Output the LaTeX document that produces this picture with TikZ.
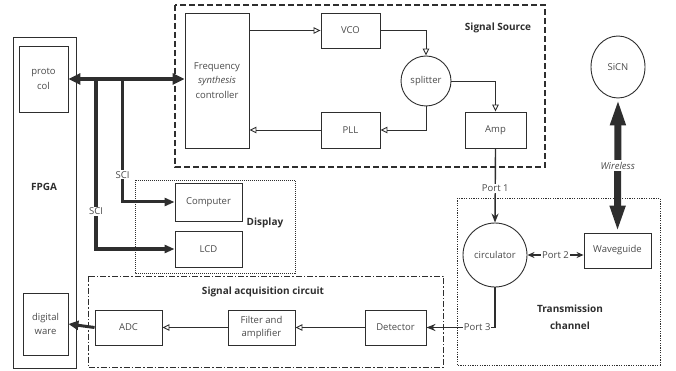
\documentclass[tikz,border=0pt]{standalone}
\usepackage{fontspec}
\setmainfont{Open Sans}
\usetikzlibrary{arrows.meta,shapes.geometric}
\definecolor{ink}{HTML}{2E2E2E}
\definecolor{txt}{HTML}{4A4A4A}
\begin{document}
\begin{tikzpicture}[x=1pt,y=-1pt,
  every node/.style={text=txt, font=\fontsize{9.5}{14.5}\selectfont},
  box/.style={draw=ink, line width=0.9pt, inner sep=0pt, align=center},
  rnd/.style={draw=ink, line width=0.9pt, circle, inner sep=0pt, align=center},
  grp/.style={draw=ink},
  ttl/.style={font=\fontsize{10}{17}\selectfont\bfseries, text=ink, align=center},
  oarr/.style={draw=ink, line width=0.9pt, -{Triangle[open,length=7pt,width=6.5pt]}},
  farr/.style={draw=ink, -{Triangle[length=10pt,width=8pt]}},
  lbl/.style={fill=white, inner sep=1pt}
]
\useasboundingbox (0,0) rectangle (676,371);

% group frames
\draw[grp, line width=1.5pt, dash pattern=on 6pt off 3pt] (175,5) rectangle (545,167);
\draw[grp, line width=0.6pt, dash pattern=on 1pt off 1pt] (135,180) rectangle (295,273);
\draw[grp, line width=0.9pt, dash pattern=on 6pt off 2pt on 1.5pt off 2pt] (88,276) rectangle (443,367);
\draw[grp, line width=0.7pt, dash pattern=on 1.2pt off 1.2pt] (457,198) rectangle (660,365);

\node[ttl] (tsrc) at (498,28) {Signal Source};
\node[ttl] (tdisp) at (265,223) {Display};
\node[ttl] (tacq) at (263,292) {Signal acquisition circuit};
\node[ttl] (ttr) at (570,317) {Transmission\\channel};

% FPGA
\node[box, minimum width=63pt, minimum height=331pt] (fpga) at (44.5,202.5) {};
\node[ttl] (tfpga) at (44,187) {FPGA};
\node[box, minimum width=49pt, minimum height=66pt] (proto) at (43.5,79) {proto\\col};
\node[box, minimum width=45pt, minimum height=62pt] (dig) at (45.5,324) {digital\\ware};

% signal source
\node[box, minimum width=64pt, minimum height=135pt] (freq) at (217,80.5) {Frequency\\\textit{synthesis}\\controller};
\node[box, minimum width=59pt, minimum height=35pt] (vco) at (350.5,30.5) {VCO};
\node[box, minimum width=59pt, minimum height=36pt] (pll) at (350.5,130) {PLL};
\node[rnd, minimum size=50pt] (split) at (426,81) {splitter};
\node[box, minimum width=61pt, minimum height=36pt] (amp) at (495.5,130) {Amp};

% display
\node[box, minimum width=67pt, minimum height=38pt] (comp) at (208.5,202) {Computer};
\node[box, minimum width=67pt, minimum height=36pt] (lcd) at (208.5,249) {LCD};

% transmission
\node[rnd, minimum size=64pt] (circ) at (495,255) {circulator};
\node[box, minimum width=67pt, minimum height=35pt] (wg) at (617.5,250.5) {Waveguide};
\node[draw=ink, line width=0.9pt, ellipse, minimum width=54pt, minimum height=62pt, inner sep=0pt] (sicn) at (618,67) {SiCN};

% acquisition
\node[box, minimum width=61pt, minimum height=35pt] (det) at (395.5,327.5) {Detector};
\node[box, minimum width=67pt, minimum height=35pt, font=\fontsize{9.5}{13}\selectfont] (filt) at (261.5,327.5) {Filter and\\amplifier};
\node[box, minimum width=67pt, minimum height=35pt] (adc) at (128.5,327.5) {ADC};

% signal source connectors
\draw[oarr] (freq.east |- vco.west) -- (vco.west);
\draw[oarr] (vco.east) -| (split.north);
\draw[oarr] (split.east) -| (amp.north);
\draw[oarr] (split.south) |- (pll.east);
\draw[oarr] (pll.west) -- (pll.west -| freq.east);

% bus
\coordinate (b1) at (96,79);
\coordinate (b2) at (122.5,79);
\draw[draw=ink, line width=4.5pt, {Triangle[length=12pt,width=11pt]}-{Triangle[length=12pt,width=11pt]}] (proto.east) -- (proto.east -| freq.west);
\draw[farr, line width=3.5pt] (b1) |- (lcd.west) node[pos=0.39, lbl] (sci2) {SCI};
\draw[farr, line width=3pt] (b2) |- (comp.west) node[pos=0.39, lbl] (sci1) {SCI};

% transmission connectors
\draw[draw=ink, line width=1.4pt, -{Stealth[length=9pt,width=7pt]}] (amp.south) -- (circ.north) node[pos=0.54, lbl] (p1) {Port 1};
\draw[draw=ink, line width=1.4pt, {Stealth[length=7pt,width=6pt]}-{Stealth[length=7pt,width=6pt]}] (circ.east) -- (circ.east -| wg.west) node[midway, lbl] (p2) {Port 2};
\draw[draw=ink, line width=1.6pt, -{Stealth[length=9pt,width=7pt]}] (circ.south) |- (det.east) node[pos=0.63, lbl] (p3) {Port 3};
\draw[draw=ink, line width=7pt, {Triangle[length=27pt,width=14pt]}-{Triangle[length=27pt,width=14pt]}] (wg.north) -- (sicn.south) node[midway, fill=white, inner sep=2pt, font=\fontsize{9.5}{10}\selectfont\itshape] (wl) {Wireless};

% acquisition connectors
\draw[oarr] (det.west) -- (filt.east);
\draw[oarr] (filt.west) -- (adc.east);
\draw[draw=ink, line width=3pt, -{Triangle[length=10pt,width=9pt]}] (adc.west) -- (dig.east);
\end{tikzpicture}
\end{document}
